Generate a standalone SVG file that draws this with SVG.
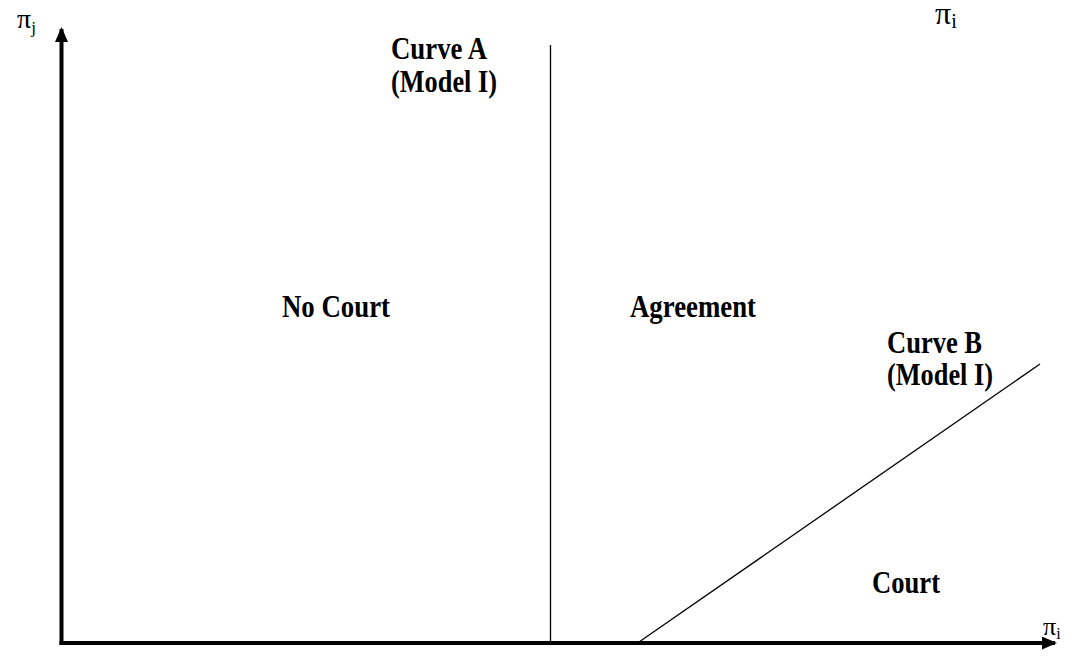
<svg xmlns="http://www.w3.org/2000/svg" width="1078" height="656" viewBox="0 0 1078 656">
<style>
.lbl{font-family:"Liberation Serif","Times New Roman",serif;font-weight:bold;font-size:31px;fill:#000}
.sym{font-family:"Liberation Serif","Times New Roman",serif;fill:#000}
.axis{stroke:#000;stroke-width:4;fill:none}
.curve{stroke:#000;stroke-width:1.3;fill:none}
</style>
<defs>
<marker id="ah" markerWidth="15" markerHeight="13" refX="13" refY="6.5" orient="auto" markerUnits="userSpaceOnUse">
<path d="M0,0 L15,6.5 L0,13 Z" fill="#000"/>
</marker>
</defs>
<rect width="1078" height="656" fill="#fff"/>
<g id="connectors">
<line class="axis" x1="61.5" y1="645" x2="61.5" y2="29" marker-end="url(#ah)"/>
<line class="axis" x1="59.5" y1="643" x2="1055" y2="643" marker-end="url(#ah)"/>
<line id="curveA" class="curve" x1="550.5" y1="45" x2="550.5" y2="642"/>
<line id="curveB" class="curve" x1="639" y1="642" x2="1040" y2="364"/>
</g>
<g id="axis-labels">
<text class="sym" x="17" y="28" font-size="28">π<tspan font-size="17" dy="5">j</tspan></text>
<text class="sym" x="935" y="24" font-size="32">π<tspan font-size="20" dy="4">i</tspan></text>
<text class="sym" x="1043" y="635" font-size="26">π<tspan font-size="16" dy="4">i</tspan></text>
</g>
<g id="curveA-label">
<text class="lbl" x="391" y="59" textLength="96" lengthAdjust="spacingAndGlyphs">Curve A</text>
<text class="lbl" x="391" y="92" textLength="106" lengthAdjust="spacingAndGlyphs">(Model I)</text>
</g>
<g id="curveB-label">
<text class="lbl" x="887" y="353" textLength="95" lengthAdjust="spacingAndGlyphs">Curve B</text>
<text class="lbl" x="887" y="385" textLength="106" lengthAdjust="spacingAndGlyphs">(Model I)</text>
</g>
<g id="region-nocourt"><text class="lbl" x="282" y="316.5" textLength="108" lengthAdjust="spacingAndGlyphs">No Court</text></g>
<g id="region-agreement"><text class="lbl" x="630" y="316.5" textLength="126" lengthAdjust="spacingAndGlyphs">Agreement</text></g>
<g id="region-court"><text class="lbl" x="872" y="593" textLength="68" lengthAdjust="spacingAndGlyphs">Court</text></g>
</svg>
